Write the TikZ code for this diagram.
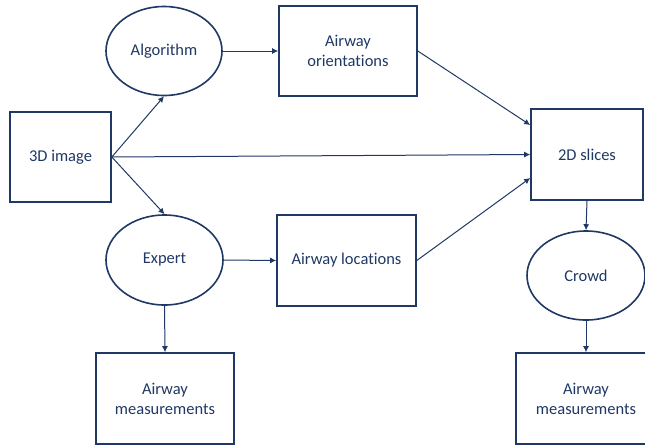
\documentclass[tikz,border=0pt]{standalone}
\usepackage{fontspec}
\setmainfont{Carlito}[Ligatures=CommonOff]
\usetikzlibrary{arrows.meta,shapes.geometric}
\definecolor{navy}{HTML}{1F3864}
\tikzset{
  box/.style={draw=navy, line width=1.6pt, rectangle, inner sep=0pt, align=center, text=navy, font=\fontsize{16.5}{20}\selectfont},
  oval/.style={draw=navy, line width=1.6pt, ellipse, inner sep=0pt, align=center, text=navy, font=\fontsize{16.5}{20}\selectfont},
  conn/.style={draw=navy, line width=1pt, -{Latex[length=6pt,width=6pt]}}
}
\begin{document}
\begin{tikzpicture}[x=1pt,y=-1pt]
\useasboundingbox (0,0) rectangle (645,445);
\node[box, minimum width=101pt, minimum height=90pt] (img) at (60.5,157) {3D image};
\node[oval, minimum width=116pt, minimum height=89pt] (alg) at (164,51) {Algorithm};
\node[box, minimum width=138pt, minimum height=90pt] (ori) at (348,51) {Airway\\orientations};
\node[box, minimum width=112pt, minimum height=91pt] (sl) at (587,154.5) {2D slices};
\node[oval, minimum width=117pt, minimum height=90pt] (exp) at (164.5,260) {Expert};
\node[box, minimum width=139pt, minimum height=91pt] (loc) at (346.5,260.5) {Airway locations};
\node[box, minimum width=138pt, minimum height=91pt] (m1) at (165,398.5) {Airway\\measurements};
\node[oval, minimum width=118pt, minimum height=89pt] (cr) at (586,275.5) {Crowd};
\node[box, minimum width=140pt, minimum height=91pt] (m2) at (586,398.5) {Airway\\measurements};
\draw[conn] (alg.east) -- (ori.west);
\draw[conn] (img.east) -- (alg.south);
\draw[conn] (img.east) -- (exp.north);
\draw[conn] (img.east) -- (sl.west);
\draw[conn] (ori.east) -- ([yshift=29.5pt]sl.west);
\draw[conn] (exp.east) -- (loc.west);
\draw[conn] (loc.east) -- ([yshift=-23.5pt]sl.west);
\draw[conn] (exp.south) -- (m1.north);
\draw[conn] (sl.south) -- (cr.north);
\draw[conn] (cr.south) -- (m2.north);
\end{tikzpicture}
\end{document}
